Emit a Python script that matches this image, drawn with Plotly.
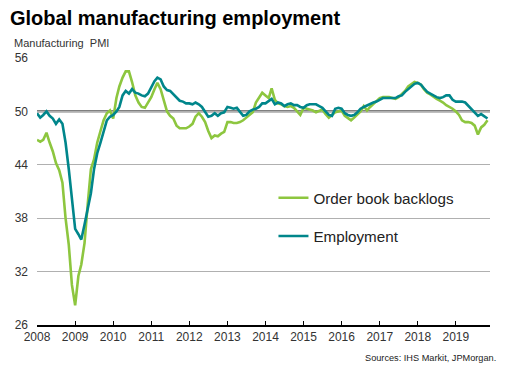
import pandas as pd
import plotly.graph_objects as go

months = pd.date_range("2008-01-01", periods=143, freq="MS")

order_backlogs = [
    46.8, 46.6, 46.8, 47.6, 46.5, 45.5, 44.2, 43.4, 42.0, 38.0, 35.0, 30.5,
    28.2, 31.5, 32.8, 35.2, 39.5, 43.5, 44.6, 46.5, 47.8, 49.0, 49.8, 50.1,
    49.2, 51.5, 52.8, 53.8, 54.5, 54.5, 53.3, 51.8, 51.0, 50.5, 50.4, 51.0,
    51.6, 52.5, 53.2, 52.5, 51.3, 50.0, 49.5, 49.2, 48.4, 48.1, 48.1, 48.1,
    48.3, 48.6, 49.4, 49.8, 49.4, 48.8, 47.8, 47.0, 47.3, 47.2, 47.5, 47.7,
    48.8, 48.8, 48.7, 48.7, 48.8, 49.0, 49.3, 49.6, 49.9, 51.0, 51.6, 52.1,
    51.8, 51.5, 52.6, 51.3, 50.9, 50.8, 50.6, 50.5, 50.6, 50.4, 50.0, 49.6,
    50.4, 50.3, 50.2, 50.1, 49.9, 50.1, 50.2, 49.7, 49.3, 49.6, 49.9, 50.0,
    50.1, 49.5, 49.3, 49.0, 49.3, 49.6, 50.0, 50.6, 50.1, 50.5, 50.8, 51.2,
    51.5, 51.6, 51.6, 51.6, 51.5, 51.4, 51.6, 51.9, 52.3, 52.8, 53.1, 53.3,
    53.2, 53.0, 52.5, 52.1, 51.9, 51.6, 51.4, 51.2, 51.0, 50.7, 50.5, 50.3,
    50.0, 49.6, 49.0, 48.8, 48.8, 48.7, 48.4, 47.4, 48.2, 48.5, 49.0,
]

employment = [
    49.8, 49.3, 49.6, 50.0, 49.5, 49.2, 48.6, 49.1, 48.6, 46.5, 43.5, 40.0,
    36.8, 36.2, 35.6, 37.3, 39.0, 40.8, 43.5, 45.3, 46.5, 47.8, 49.0, 49.4,
    49.6, 50.0, 50.5, 51.8, 52.3, 52.0, 52.5, 52.1, 52.0, 51.8, 51.7, 52.0,
    52.8, 53.4, 53.8, 53.6, 52.8, 52.4, 52.3, 51.9, 51.5, 51.2, 51.1, 50.9,
    50.9, 50.8, 51.0, 50.8, 50.5, 50.0, 49.4, 49.5, 49.8, 49.5, 49.8, 49.9,
    50.5, 50.4, 50.3, 50.4, 49.9, 49.5, 49.6, 50.0, 50.2, 50.3, 50.5, 50.9,
    50.9, 51.2, 51.4, 50.8, 51.0, 50.9, 50.6, 50.8, 50.9, 50.7, 50.7, 50.5,
    50.4, 50.7, 50.8, 50.8, 50.8, 50.6, 50.4, 50.0, 49.6, 49.5, 50.3, 50.4,
    50.3, 49.8, 49.6, 49.5, 49.6, 49.9, 50.3, 50.5, 50.7, 50.8, 51.0, 51.1,
    51.3, 51.5, 51.5, 51.5, 51.5, 51.5, 51.7, 51.8, 52.2, 52.5, 52.9, 53.1,
    53.2, 53.0, 52.6, 52.2, 52.0, 51.8, 51.6, 51.5, 51.6, 51.8, 51.8, 51.3,
    51.1, 51.1, 51.1, 51.0, 50.6, 50.3, 49.9, 49.5, 49.7, 49.5, 49.2,
]

year_ticks = [str(y) for y in range(2008, 2020)]
y_ticks = [26, 32, 38, 44, 50, 56]

GREEN = "#8dc63f"
TEAL = "#00868b"
FONT = "Liberation Sans, Arial, sans-serif"

W, H = 496, 366  # page body has an 8px margin

fig = go.Figure()
fig.add_trace(go.Scatter(
    x=months, y=order_backlogs, mode="lines", name="Order book backlogs",
    line=dict(color=GREEN, width=2.6), legend="legend",
))
fig.add_trace(go.Scatter(
    x=months, y=employment, mode="lines", name="Employment",
    line=dict(color=TEAL, width=2.6), legend="legend2",
))

fig.add_shape(type="line", xref="paper", yref="y", x0=0, x1=1, y0=50, y1=50,
              line=dict(color="black", width=1.6), layer="between")

fig.update_layout(
    width=W, height=H,
    margin=dict(l=29, r=14, t=50, b=49, autoexpand=False),
    paper_bgcolor="white", plot_bgcolor="white",
    font=dict(family=FONT, color="#333333", size=12),
    title=dict(text="<b>Global manufacturing employment</b>",
               x=2 / W, xanchor="left", xref="container",
               y=1 - 3 / H, yanchor="top", yref="container",
               pad=dict(t=0, b=0, l=0, r=0),
               font=dict(size=20, color="black", family=FONT)),
    showlegend=True,
    legend=dict(x=0.522, y=0.476, xanchor="left", yanchor="middle",
                font=dict(size=15.2, color="#222222"), bgcolor="rgba(0,0,0,0)",
                itemwidth=30),
    legend2=dict(x=0.522, y=0.333, xanchor="left", yanchor="middle",
                 font=dict(size=15.2, color="#222222"), bgcolor="rgba(0,0,0,0)",
                 itemwidth=30),
    annotations=[
        dict(text="Manufacturing  PMI", xref="paper", yref="paper",
             x=-25 / 453, y=1 + 15 / 267, xanchor="left", yanchor="middle",
             showarrow=False, font=dict(size=11, color="#333333")),
        dict(text="Sources: IHS Markit, JPMorgan.", xref="paper", yref="paper",
             x=1 + 8 / 453, y=-33 / 267, xanchor="right", yanchor="middle",
             showarrow=False, font=dict(size=9.2, color="#222222")),
    ],
)

fig.update_xaxes(
    range=["2008-01-01", "2019-11-25"],
    tickvals=[f"{y}-01-01" for y in year_ticks], ticktext=year_ticks,
    showgrid=False, zeroline=False, automargin=False,
    showline=True, linecolor="black", linewidth=1.5,
    ticks="inside", ticklen=4, tickcolor="black", tickwidth=1,
    tickfont=dict(size=12, color="#333333"),
)
fig.update_yaxes(
    range=[26, 56], tickvals=y_ticks, automargin=False,
    showgrid=True, gridcolor="#b0b0b0", gridwidth=0.8,
    zeroline=False, showline=False, ticks="",
    ticklabelstandoff=8,
    tickfont=dict(size=12, color="#333333"),
)

fig.write_html("out.html")
